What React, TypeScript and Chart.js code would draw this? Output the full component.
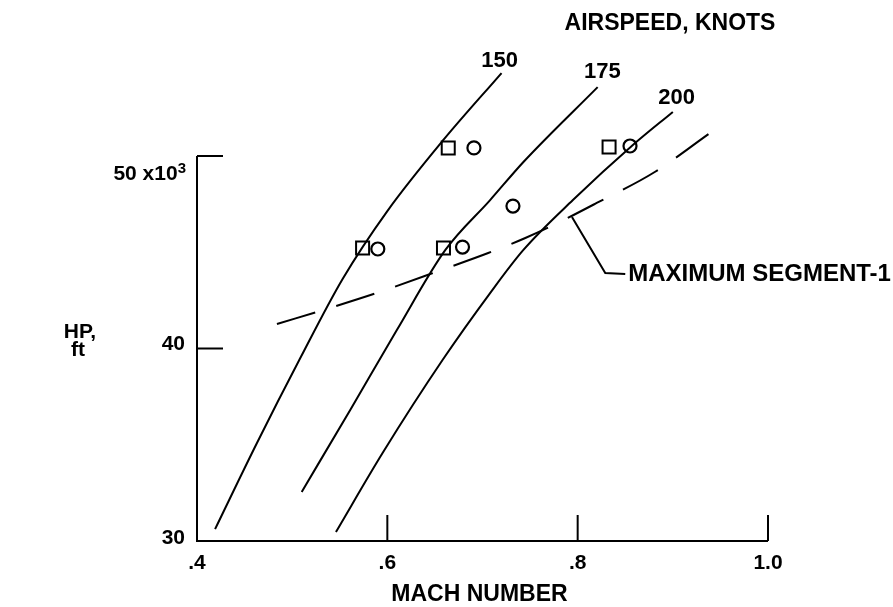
import React, { useEffect, useRef } from "react";
import { Chart, registerables } from "chart.js";

Chart.register(...registerables);

// ---- axes ----
const X_MIN = 0.4;
const X_MAX = 1.0;
const Y_MIN = 30;
const Y_MAX = 55;
const Y_AXIS_TOP = 50;
const xTicks = [0.4, 0.6, 0.8, 1.0];
const xTickLabels = [".4", ".6", ".8", "1.0"];
const yTicks = [30, 40, 50];
const yTickLabels = ["30", "40", "50 x10"];

// ---- airspeed curves (Mach, HP x10^3 ft) ----
const mach150 = [0.419, 0.463, 0.508, 0.553, 0.6, 0.658, 0.72];
const hp150 = [30.62, 35.09, 39.45, 43.61, 47.14, 50.78, 54.31];

const mach175 = [0.51, 0.561, 0.61, 0.661, 0.708, 0.743, 0.821];
const hp175 = [32.55, 36.81, 40.96, 45.12, 47.71, 49.69, 53.58];

const mach200 = [0.546, 0.595, 0.658, 0.708, 0.743, 0.795, 0.858, 0.9];
const hp200 = [30.47, 34.57, 39.4, 42.88, 45.12, 47.71, 50.57, 52.29];

// ---- maximum segment-1 (dashed) ----
const machMax = [0.484, 0.543, 0.592, 0.657, 0.706, 0.745, 0.781, 0.82, 0.881, 0.939];
const hpMax = [41.27, 42.16, 42.94, 44.08, 44.96, 45.74, 46.57, 47.56, 49.17, 51.19];

// ---- test points ----
const squareMach = [0.574, 0.659, 0.664, 0.833];
const squareHp = [45.22, 45.22, 50.42, 50.47];
const circleMach = [0.59, 0.679, 0.691, 0.855, 0.732];
const circleHp = [45.17, 45.27, 50.42, 50.52, 47.4];

// ---- annotations ----
const curveLabels = ["150", "175", "200"];
const curveLabelMach = [0.718, 0.826, 0.904];
const curveLabelHp = [54.94, 54.36, 53.01];
const leaderMach = [0.794, 0.829, 0.85];
const leaderHp = [46.83, 43.92, 43.87];
const maxLabel = "MAXIMUM SEGMENT-1";
const headerLabel = "AIRSPEED, KNOTS";
const xTitle = "MACH NUMBER";
const yTitle = ["HP,", "ft"];

const toPts = (xs: number[], ys: number[]) => xs.map((x, i) => ({ x, y: ys[i] }));

const FONT = '"Liberation Sans", Arial, Helvetica, sans-serif';

const overlay = {
  id: "overlay",
  afterDatasetsDraw(chart: any) {
    const ctx = chart.ctx as CanvasRenderingContext2D;
    const xs = chart.scales.x;
    const ys = chart.scales.y;
    const px = (v: number) => xs.getPixelForValue(v);
    const py = (v: number) => ys.getPixelForValue(v);
    ctx.save();
    ctx.strokeStyle = "#000";
    ctx.fillStyle = "#000";
    ctx.lineWidth = 2;
    ctx.lineCap = "butt";
    // axes
    ctx.beginPath();
    ctx.moveTo(px(X_MIN), py(Y_AXIS_TOP));
    ctx.lineTo(px(X_MIN), py(Y_MIN));
    ctx.lineTo(px(X_MAX), py(Y_MIN));
    ctx.stroke();
    // y ticks (inward)
    yTicks.slice(1).forEach((t) => {
      ctx.beginPath();
      ctx.moveTo(px(X_MIN), py(t));
      ctx.lineTo(px(X_MIN) + 26, py(t));
      ctx.stroke();
    });
    // x ticks (inward)
    xTicks.slice(1).forEach((t) => {
      ctx.beginPath();
      ctx.moveTo(px(t), py(Y_MIN));
      ctx.lineTo(px(t), py(Y_MIN) - 26);
      ctx.stroke();
    });
    // x tick labels
    ctx.font = `bold 21px ${FONT}`;
    ctx.textAlign = "center";
    ctx.textBaseline = "middle";
    xTicks.forEach((t, i) => ctx.fillText(xTickLabels[i], px(t), py(Y_MIN) + 22));
    // y tick labels
    ctx.textAlign = "right";
    const yl = px(X_MIN) - 12;
    ctx.fillText(yTickLabels[0], yl, py(yTicks[0]) - 3);
    ctx.fillText(yTickLabels[1], yl, py(yTicks[1]) - 4);
    ctx.font = `bold 15px ${FONT}`;
    const supW = ctx.measureText("3").width;
    ctx.textBaseline = "alphabetic";
    ctx.fillText("3", yl + 1, py(yTicks[2]) + 17);
    ctx.font = `bold 21px ${FONT}`;
    ctx.fillText(yTickLabels[2], yl + 1 - supW, py(yTicks[2]) + 24);
    // axis titles
    ctx.font = `bold 23px ${FONT}`;
    ctx.textAlign = "center";
    ctx.textBaseline = "middle";
    ctx.fillText(xTitle, (px(X_MIN) + px(X_MAX)) / 2 - 3, py(Y_MIN) + 54);
    ctx.font = `bold 21px ${FONT}`;
    ctx.fillText(yTitle[0], 80, 332);
    ctx.fillText(yTitle[1], 78, 350);
    // curve labels
    ctx.font = `bold 22px ${FONT}`;
    curveLabels.forEach((s, i) => ctx.fillText(s, px(curveLabelMach[i]), py(curveLabelHp[i])));
    ctx.font = `bold 23px ${FONT}`;
    ctx.fillText(headerLabel, 670, 24);
    ctx.textAlign = "left";
    ctx.font = `bold 24px ${FONT}`;
    ctx.fillText(maxLabel, px(leaderMach[2]) + 3, py(leaderHp[2]));
    ctx.restore();
  },
};

export default function App() {
  const ref = useRef<HTMLCanvasElement | null>(null);
  useEffect(() => {
    if (!ref.current) return;
    const pxPerUnit = (541 - 156) / (Y_AXIS_TOP - Y_MIN);
    const topPad = 541 - (Y_MAX - Y_MIN) * pxPerUnit;
    const line = (xs: number[], ys: number[], extra: any = {}) => ({
      type: "line",
      data: toPts(xs, ys),
      borderColor: "#000",
      borderWidth: 2,
      pointRadius: 0,
      cubicInterpolationMode: "monotone",
      fill: false,
      clip: false,
      ...extra,
    });
    const chart = new Chart(ref.current, {
      type: "line",
      data: {
        datasets: [
          line(mach150, hp150),
          line(mach175, hp175),
          line(mach200, hp200),
          line(machMax, hpMax, { borderDash: [40, 22] }),
          line(leaderMach, leaderHp, { cubicInterpolationMode: "default", tension: 0 }),
          {
            type: "scatter",
            data: toPts(squareMach, squareHp),
            pointStyle: "rect",
            pointRadius: 9.2,
            borderColor: "#000",
            borderWidth: 2,
            backgroundColor: "rgba(255,255,255,0)",
            showLine: false,
            clip: false,
          } as any,
          {
            type: "scatter",
            data: toPts(circleMach, circleHp),
            pointStyle: "circle",
            pointRadius: 6.5,
            borderColor: "#000",
            borderWidth: 2.2,
            backgroundColor: "rgba(255,255,255,0)",
            showLine: false,
            clip: false,
          } as any,
        ] as any,
      },
      options: {
        responsive: false,
        animation: false,
        devicePixelRatio: 1,
        layout: { padding: { left: 197, right: 893 - 768, top: topPad, bottom: 607 - 541 } },
        plugins: { legend: { display: false }, tooltip: { enabled: false } },
        events: [],
        scales: {
          x: { type: "linear", min: X_MIN, max: X_MAX, display: false },
          y: { type: "linear", min: Y_MIN, max: Y_MAX, display: false },
        },
      },
      plugins: [overlay],
    } as any);
    return () => chart.destroy();
  }, []);
  return (
    <div style={{ position: "absolute", left: 0, top: 0, width: 893, height: 607, background: "#fff" }}>
      <canvas ref={ref} width={893} height={607} style={{ display: "block" }} />
    </div>
  );
}
